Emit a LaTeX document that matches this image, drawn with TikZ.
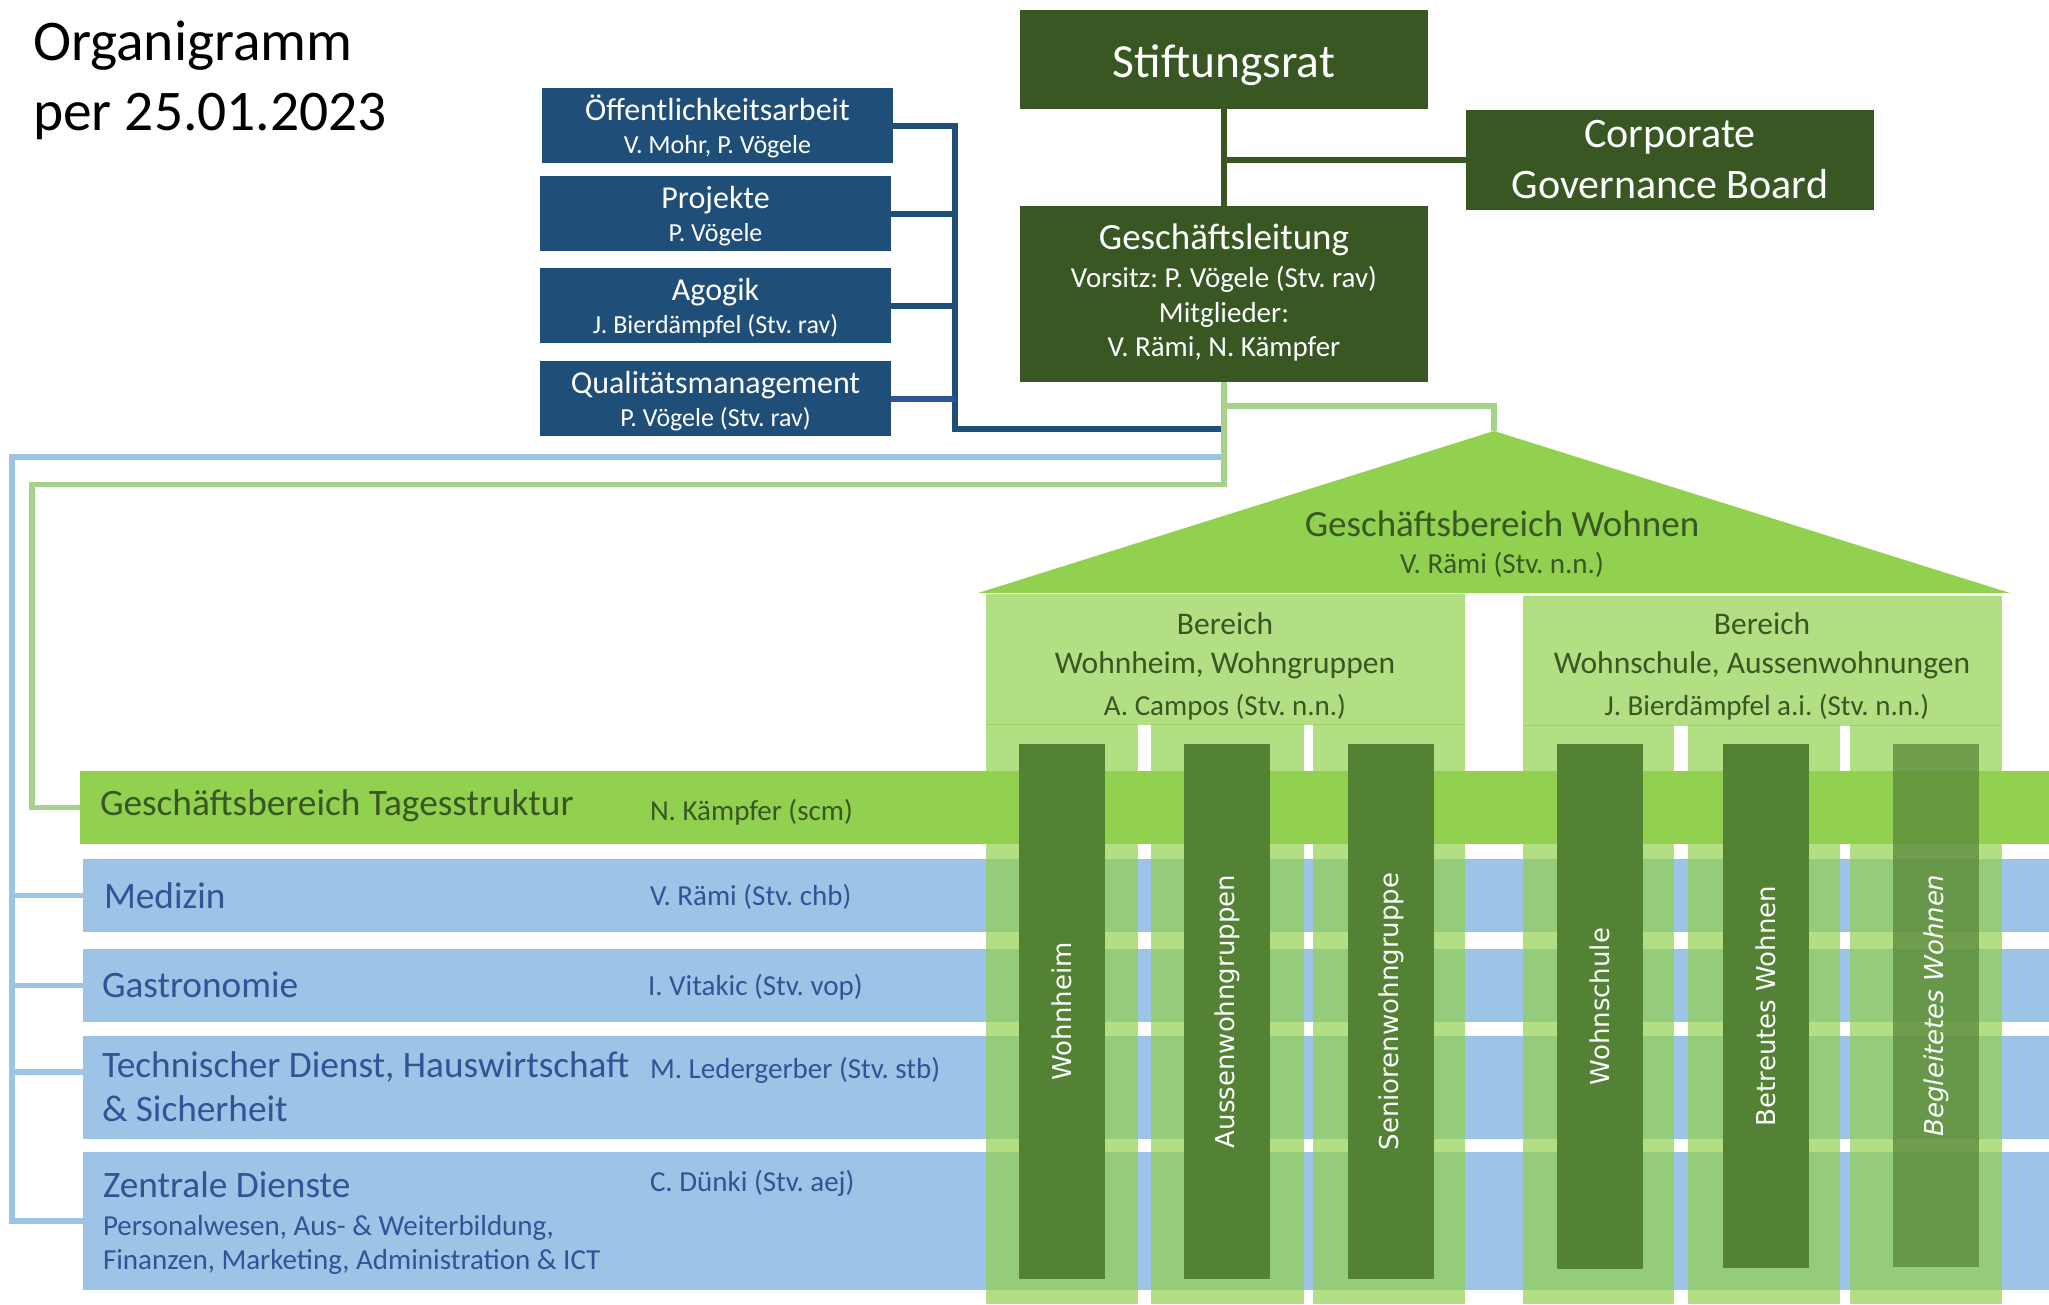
\documentclass[tikz,border=0pt]{standalone}
\usepackage{fontspec}
\setmainfont{Carlito}
\newfontfamily\dvsans{DejaVu Sans}
\newcommand{\fsz}[1]{\fontsize{#1}{#1}\selectfont}
\frenchspacing
\definecolor{dgreen}{HTML}{385723}
\definecolor{navy}{HTML}{1F4E79}
\definecolor{qmblue}{HTML}{2F5597}
\definecolor{lgreen}{HTML}{92D050}
\definecolor{conngreen}{HTML}{A9D18E}
\definecolor{lblue}{HTML}{9DC3E6}
\definecolor{txtblue}{HTML}{2F5597}
\definecolor{bargreen}{HTML}{548235}
\tikzset{
  box/.style={rectangle, inner sep=0pt, outer sep=0pt, anchor=north west, draw=none},
  dgbox/.style={box, fill=dgreen},
  navybox/.style={box, fill=navy, minimum width=351pt, minimum height=75pt},
  rowbox/.style={box, fill=lblue, minimum width=1966pt},
  hdrbox/.style={box, fill=lgreen, fill opacity=0.7, minimum width=479pt},
  colbox/.style={box, fill=lgreen, fill opacity=0.7},
  wbar/.style={rectangle, inner sep=0pt, outer sep=0pt, fill=bargreen, text=white,
     font=\dvsans\fsz{26}, rotate=90, minimum height=86pt},
  lbl/.style={anchor=base, inner sep=0pt, outer sep=0pt},
  lbll/.style={anchor=base west, inner sep=0pt, outer sep=0pt},
  navyline/.style={draw=navy, line width=6pt},
  qmline/.style={draw=qmblue, line width=6pt},
  dgline/.style={draw=dgreen, line width=6pt},
  cgline/.style={draw=conngreen, line width=5.5pt},
  lbline/.style={draw=lblue, line width=5.5pt},
}
\begin{document}
\frenchspacing
\begin{tikzpicture}[x=1pt,y=-1pt]
\useasboundingbox (0,0) rectangle (2049,1304);
\fill[white] (0,0) rectangle (2049,1304);

% title
\node[lbll, font=\fsz{57.5}] (title1) at (33,60) {Organigramm};
\node[lbll, font=\fsz{57.5}] (title2) at (33,130) {per 25.01.2023};

% top management
\node[dgbox, minimum width=408pt, minimum height=99pt] (stift) at (1020,10) {};
\node[lbl, font=\fsz{47.5}, text=white] (stiftT) at (1224,77) {Stiftungsrat};
\node[dgbox, minimum width=408pt, minimum height=100pt] (cgb) at (1466,110) {};
\node[lbl, font=\fsz{42}, text=white] (cgbT1) at (1670,147) {Corporate};
\node[lbl, font=\fsz{42}, text=white] (cgbT2) at (1670,198) {Governance Board};
\node[dgbox, minimum width=408pt, minimum height=176pt] (gl) at (1020,206) {};
\node[lbl, font=\fsz{37}, text=white] (glT1) at (1224,249) {Geschäftsleitung};
\node[lbl, font=\fsz{29}, text=white] (glT2) at (1224,287) {Vorsitz: P. Vögele (Stv. rav)};
\node[lbl, font=\fsz{29}, text=white] (glT3) at (1224,322) {Mitglieder:};
\node[lbl, font=\fsz{29}, text=white] (glT4) at (1224,356) {V. Rämi, N. Kämpfer};

% staff boxes
\node[navybox] (oeff) at (542,88) {};
\node[lbl, font=\fsz{32}, text=white] (oeffT) at (717.5,120) {Öffentlichkeitsarbeit};
\node[lbl, font=\fsz{26}, text=white] (oeffP) at (717.5,153) {V. Mohr, P. Vögele};
\node[navybox] (proj) at (540,176) {};
\node[lbl, font=\fsz{32}, text=white] (projT) at (715.5,208) {Projekte};
\node[lbl, font=\fsz{26}, text=white] (projP) at (715.5,241) {P. Vögele};
\node[navybox] (agog) at (540,268) {};
\node[lbl, font=\fsz{32}, text=white] (agogT) at (715.5,300) {Agogik};
\node[lbl, font=\fsz{26}, text=white] (agogP) at (715.5,333) {J. Bierdämpfel (Stv. rav)};
\node[navybox] (qm) at (540,361) {};
\node[lbl, font=\fsz{32}, text=white] (qmT) at (715.5,393) {Qualitätsmanagement};
\node[lbl, font=\fsz{26}, text=white] (qmP) at (715.5,426) {P. Vögele (Stv. rav)};

% rows
\node[box, fill=lgreen, minimum width=1969pt, minimum height=73pt] (tages) at (80,771) {};
\node[rowbox, minimum height=73pt] (med) at (83,859) {};
\node[rowbox, minimum height=73pt] (gas) at (83,949) {};
\node[rowbox, minimum height=103pt] (tech) at (83,1036) {};
\node[rowbox, minimum height=138pt] (zen) at (83,1152) {};

\node[lbll, font=\fsz{37.3}, text=dgreen] (tagesT) at (100,815) {Geschäftsbereich Tagesstruktur};
\node[lbll, font=\fsz{29}, text=dgreen] (tagesP) at (650,820) {N. Kämpfer (scm)};
\node[lbll, font=\fsz{37.3}, text=txtblue] (medT) at (104,908) {Medizin};
\node[lbll, font=\fsz{29}, text=txtblue] (medP) at (650,905) {V. Rämi (Stv. chb)};
\node[lbll, font=\fsz{37.3}, text=txtblue] (gasT) at (102,997) {Gastronomie};
\node[lbll, font=\fsz{29}, text=txtblue] (gasP) at (648,995) {I. Vitakic (Stv. vop)};
\node[lbll, font=\fsz{37.3}, text=txtblue] (techT1) at (102,1077) {Technischer Dienst, Hauswirtschaft};
\node[lbll, font=\fsz{37.3}, text=txtblue] (techT2) at (102,1121) {\& Sicherheit};
\node[lbll, font=\fsz{29}, text=txtblue] (techP) at (650,1078) {M. Ledergerber (Stv. stb)};
\node[lbll, font=\fsz{37.3}, text=txtblue] (zenT1) at (103,1197) {Zentrale Dienste};
\node[lbll, font=\fsz{29}, text=txtblue] (zenT2) at (103,1235) {Personalwesen, Aus- \& Weiterbildung,};
\node[lbll, font=\fsz{29}, text=txtblue] (zenT3) at (103,1269) {Finanzen, Marketing, Administration \& ICT};
\node[lbll, font=\fsz{29}, text=txtblue] (zenP) at (650,1191) {C. Dünki (Stv. aej)};

% Wohnen roof
\coordinate (apex) at (1494,431);
\coordinate (triL) at (978,593);
\coordinate (triR) at (2010,593);
\fill[lgreen] (apex) -- (triR) -- (triL) -- cycle;
\node[lbl, font=\fsz{37}, text=dgreen] (wohnT) at (1502,536) {Geschäftsbereich Wohnen};
\node[lbl, font=\fsz{29}, text=dgreen] (wohnP) at (1502,573) {V. Rämi (Stv. n.n.)};

% Bereich headers and columns
\node[hdrbox, minimum height=131pt] (bwh) at (986,594) {};
\node[hdrbox, minimum height=130pt] (bws) at (1523,596) {};
\node[colbox, minimum width=152pt, minimum height=580pt] (c1) at (986,724) {};
\node[colbox, minimum width=153pt, minimum height=580pt] (c2) at (1151,724) {};
\node[colbox, minimum width=152pt, minimum height=580pt] (c3) at (1313,724) {};
\node[colbox, minimum width=151pt, minimum height=579pt] (c4) at (1523,725) {};
\node[colbox, minimum width=152pt, minimum height=579pt] (c5) at (1688,725) {};
\node[colbox, minimum width=152pt, minimum height=579pt] (c6) at (1850,725) {};

\node[lbl, font=\fsz{31.5}, text=dgreen] (bwhT1) at (1225,634) {Bereich};
\node[lbl, font=\fsz{31.5}, text=dgreen] (bwhT2) at (1225,673) {Wohnheim, Wohngruppen};
\node[lbl, font=\fsz{29}, text=dgreen] (bwhT3) at (1225,715) {A. Campos (Stv. n.n.)};
\node[lbl, font=\fsz{31.5}, text=dgreen] (bwsT1) at (1762,634) {Bereich};
\node[lbl, font=\fsz{31.5}, text=dgreen] (bwsT2) at (1762,673) {Wohnschule, Aussenwohnungen};
\node[lbl, font=\fsz{29}, text=dgreen] (bwsT3) at (1767,715) {J. Bierdämpfel a.i. (Stv. n.n.)};

% bars
\node[wbar, minimum width=535pt] (b1) at (1062,1011.5) {Wohnheim};
\node[wbar, minimum width=535pt] (b2) at (1227,1011.5) {Aussenwohngruppen};
\node[wbar, minimum width=535pt] (b3) at (1391,1011.5) {Seniorenwohngruppe};
\node[wbar, minimum width=525pt] (b4) at (1600,1006.5) {Wohnschule};
\node[wbar, minimum width=524pt] (b5) at (1766,1006) {Betreutes Wohnen};
\node[wbar, minimum width=523pt, fill opacity=0.7, text opacity=1] (b6) at (1936,1005.5) {\itshape Begleitetes Wohnen};

% connectors
\coordinate (busB) at (955,429);
\draw[navyline] (oeff.east) -- (oeff.east -| busB) -- (busB) -- (busB -| gl.south);
\draw[navyline] (proj.east) -- (proj.east -| busB);
\draw[navyline] (agog.east) -- (agog.east -| busB);
\draw[qmline] (qm.east) -- (qm.east -| busB);

\draw[dgline] (stift.south) -- (gl.north);
\draw[dgline] (stift.south |- cgb.west) -- (cgb.west);

\coordinate (bTurn) at (12,457);
\coordinate (techJ) at (12,1072);
\draw[lbline] (gl.south |- bTurn) -- (bTurn) -- (bTurn |- zen.west) -- (zen.west);
\draw[lbline] (bTurn |- med.west) -- (med.west);
\draw[lbline] (bTurn |- gas.west) -- (gas.west);
\draw[lbline] (techJ) -- (techJ -| tech.west);

\coordinate (gTurn) at (32,484.5);
\coordinate (gBranch) at (1224,406);
\draw[cgline] (gl.south) -- (gl.south |- gTurn) -- (gTurn) -- (gTurn |- tages.west) -- (tages.west);
\draw[cgline] (gl.south |- gBranch) -- (gBranch -| apex) -- (apex);
\end{tikzpicture}
\end{document}
